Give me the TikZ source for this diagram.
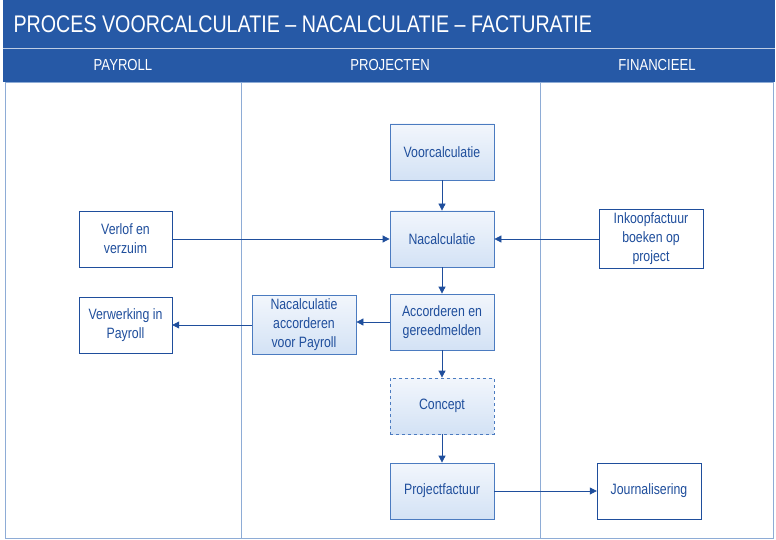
\documentclass[tikz,border=0pt]{standalone}
\usepackage{fontspec}
\setmainfont[FakeStretch=0.82]{Liberation Sans}
\usetikzlibrary{arrows.meta, positioning}
\definecolor{bar}{HTML}{2659A6}
\definecolor{lane}{HTML}{8EACD6}
\definecolor{edge}{HTML}{4B7BC0}
\definecolor{ink}{HTML}{1F4E9C}
\definecolor{filltop}{HTML}{F2F6FC}
\definecolor{fillbot}{HTML}{D3E2F5}
\tikzset{
  proc/.style = {draw=edge, thick, top color=filltop, bottom color=fillbot, minimum width=104pt, minimum height=56pt, align=center, text=ink, font=\fontsize{15}{19}\selectfont},
  ext/.style = {draw=ink, fill=white, minimum width=93pt, minimum height=56pt, align=center, text=ink, font=\fontsize{15}{19}\selectfont},
  arrow/.style = {-{Triangle[length=7pt,width=7pt]}, draw=ink, thick},
  head/.style = {text=white, font=\fontsize{16}{18}\selectfont},
}
\begin{document}
\begin{tikzpicture}[x=1pt, y=-1pt]
  \useasboundingbox (0,0) rectangle (776,540);
  % lanes
  \fill[bar] (3,0) rectangle (775,82);
  \draw[white!70!bar, thin] (3,48) -- (775,48);
  \node[anchor=west, text=white, font=\fontsize{24}{26}\selectfont] (title) at (10,24) {PROCES VOORCALCULATIE -- NACALCULATIE -- FACTURATIE};
  \node[head] (payroll) at (123,65) {PAYROLL};
  \node[head] (projecten) at (390,65) {PROJECTEN};
  \node[head] (financieel) at (657,65) {FINANCIEEL};
  \draw[lane, thick] (5,82) rectangle (773,538);
  \draw[lane, thick] (241,82) -- (241,538);
  \draw[lane, thick] (540,82) -- (540,538);
  % the steps
  \node[proc] (voorcalc) at (442,152) {Voorcalculatie};
  \node[proc] (nacalc) at (442,239) {Nacalculatie};
  \node[proc] (accord) at (442,322) {Accorderen en\\gereedmelden};
  \node[proc, dashed] (concept) at (442,406) {Concept};
  \node[proc] (factuur) at (442,491) {Projectfactuur};
  \node[proc] (nacaccord) at (304,325) {Nacalculatie\\accorderen\\voor Payroll};
  \node[ext] (verlof) at (125.5,239) {Verlof en\\verzuim};
  \node[ext] (verwerking) at (125.5,325) {Verwerking in\\Payroll};
  \node[ext, minimum width=104pt] (inkoop) at (651,239) {Inkoopfactuur\\boeken op\\project};
  \node[ext, minimum width=104pt] (journaal) at (649,491) {Journalisering};
  % the connections
  \draw[arrow] (voorcalc) -- (nacalc);
  \draw[arrow] (verlof) -- (nacalc);
  \draw[arrow] (inkoop) -- (nacalc);
  \draw[arrow] (nacalc) -- (accord);
  \draw[arrow] (accord.west) -- (nacaccord.east |- accord.west);
  \draw[arrow] (nacaccord) -- (verwerking);
  \draw[arrow] (accord) -- (concept);
  \draw[arrow] (concept) -- (factuur);
  \draw[arrow] (factuur) -- (journaal);
\end{tikzpicture}
\end{document}
